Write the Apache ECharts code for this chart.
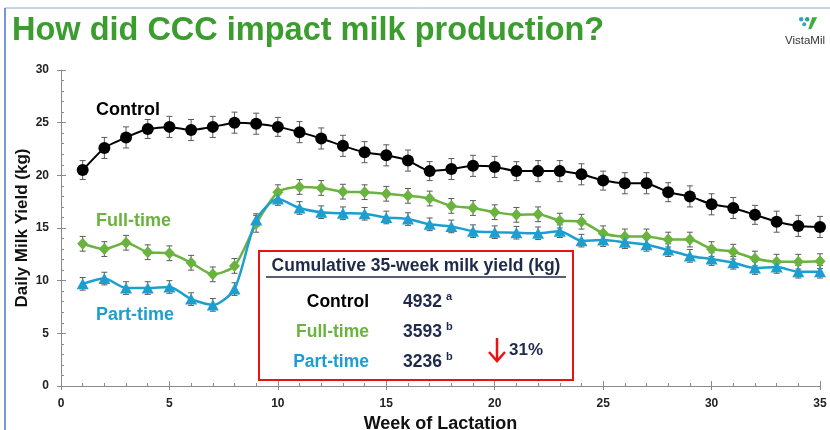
<!DOCTYPE html>
<html>
<head>
<meta charset="utf-8">
<script src="https://cdn.jsdelivr.net/npm/echarts@6/dist/echarts.min.js"></script>
<style>
html,body{margin:0;padding:0;background:#fff;}
#c{width:830px;height:430px;}
</style>
</head>
<body>
<div id="c"></div>
<script>
// ---- data ----
const weeks = [1,2,3,4,5,6,7,8,9,10,11,12,13,14,15,16,17,18,19,20,21,22,23,24,25,26,27,28,29,30,31,32,33,34,35];
const control  = [20.5,22.6,23.6,24.4,24.6,24.3,24.6,25.0,24.9,24.6,24.1,23.5,22.8,22.2,21.9,21.4,20.4,20.6,20.9,20.8,20.4,20.4,20.4,20.1,19.5,19.25,19.25,18.4,18.0,17.25,16.9,16.25,15.6,15.2,15.1];
const fullTime = [13.5,13.0,13.6,12.7,12.6,11.7,10.6,11.4,15.4,18.4,18.9,18.8,18.45,18.4,18.25,18.05,17.8,17.1,16.9,16.5,16.25,16.3,15.7,15.6,14.5,14.2,14.2,13.9,13.9,13.0,12.75,12.1,11.8,11.8,11.85];
const partTime = [9.7,10.2,9.3,9.3,9.4,8.25,7.7,9.2,15.75,17.75,16.9,16.5,16.4,16.35,16.0,15.85,15.35,15.15,14.7,14.6,14.55,14.5,14.7,13.8,13.85,13.65,13.4,12.9,12.35,12.05,11.7,11.2,11.3,10.85,10.85];
const controlErr  = [0.9,1.0,1.0,0.9,1.0,1.0,1.0,1.0,1.0,0.9,1.0,1.0,1.0,1.0,1.0,1.0,0.9,1.0,1.0,1.0,0.9,1.0,1.0,1.0,0.9,1.0,1.0,0.9,1.0,1.0,1.0,0.9,1.0,1.0,1.0];
const fullTimeErr = [0.7,0.7,0.7,0.7,0.7,0.7,0.7,0.7,0.8,0.7,0.7,0.7,0.7,0.7,0.7,0.7,0.7,0.7,0.7,0.7,0.7,0.7,0.7,0.7,0.7,0.7,0.7,0.7,0.7,0.7,0.7,0.7,0.7,0.7,0.7];
const partTimeErr = [0.6,0.6,0.6,0.6,0.6,0.6,0.6,0.6,0.6,0.6,0.6,0.6,0.6,0.6,0.6,0.6,0.6,0.6,0.6,0.6,0.6,0.6,0.6,0.6,0.6,0.6,0.6,0.6,0.6,0.6,0.6,0.6,0.6,0.6,0.6];
const groupNames = ['Control','Full-time','Part-time'];
const cumulative = ['4932','3593','3236'];
const cumulativeSig = ['a','b','b'];
const reduction = '31%';
const xTicks = [0,5,10,15,20,25,30,35];
const yTicks = [0,5,10,15,20,25,30];

// ---- styles ----
const C_CTRL = '#000000', C_FULL = '#6ab33e', C_PART = '#1c9fcf', C_NAVY = '#1f2a4a';
const FONT = '"Liberation Sans", Arial, sans-serif';

function pairs(vals){ return weeks.map((w,i)=>[w, vals[i]]); }
function errPairs(vals, errs){ return weeks.map((w,i)=>[w, vals[i]-errs[i], vals[i]+errs[i]]); }
function errSeries(vals, errs){
  return {
    type:'custom', z:1, silent:true,
    data: errPairs(vals, errs),
    renderItem(params, api){
      const x = api.value(0);
      const lo = api.coord([x, api.value(1)]);
      const hi = api.coord([x, api.value(2)]);
      const w = 3;
      const st = {stroke:'#5a5a5a', lineWidth:1};
      return {type:'group', children:[
        {type:'line', shape:{x1:lo[0],y1:lo[1],x2:hi[0],y2:hi[1]}, style:st},
        {type:'line', shape:{x1:lo[0]-w,y1:lo[1],x2:lo[0]+w,y2:lo[1]}, style:st},
        {type:'line', shape:{x1:hi[0]-w,y1:hi[1],x2:hi[0]+w,y2:hi[1]}, style:st}
      ]};
    }
  };
}

const chart = echarts.init(document.getElementById('c'), null, {renderer:'canvas'});
const axisLine = {lineStyle:{color:'#8a8a8a', width:1}};
const INSET = 'bold 17.5px '+FONT;
const option = {
  animation:false,
  backgroundColor:'#ffffff',
  grid:{left:61, right:10, top:70, bottom:44, containLabel:false, outerBoundsMode:'none'},
  xAxis:[{
    type:'value', min:0, max:35, interval:5,
    axisLine:Object.assign({onZero:false}, axisLine),
    axisTick:{show:true, inside:true, length:5, lineStyle:{color:'#8a8a8a'}},
    minorTick:{show:true, splitNumber:5, length:3, lineStyle:{color:'#8a8a8a'}},
    splitLine:{show:false},
    axisLabel:{margin:12, fontFamily:FONT, fontWeight:'bold', fontSize:12, color:'#222',
      formatter:v=> xTicks.includes(v) ? String(v) : ''},
    name:'Week of Lactation', nameLocation:'middle', nameGap:26,
    nameTextStyle:{fontFamily:FONT, fontWeight:'bold', fontSize:18, color:'#111'}
  },{
    type:'value', min:0, max:35, interval:5, position:'bottom',
    axisLine:{show:false}, axisLabel:{show:false}, splitLine:{show:false},
    axisTick:{show:true, inside:false, length:4, lineStyle:{color:'#8a8a8a'}}
  }],
  yAxis:[{
    type:'value', min:0, max:30, interval:5,
    axisLine:Object.assign({show:true, onZero:false}, axisLine),
    axisTick:{show:true, inside:true, length:5, lineStyle:{color:'#8a8a8a'}},
    minorTick:{show:true, splitNumber:5, length:3, lineStyle:{color:'#8a8a8a'}},
    splitLine:{show:false},
    axisLabel:{margin:12, fontFamily:FONT, fontWeight:'bold', fontSize:12, color:'#222',
      formatter:v=> yTicks.includes(v) ? String(v) : ''},
    name:'Daily Milk Yield (kg)', nameLocation:'middle', nameGap:30, nameRotate:90,
    nameMoveOverlap:false,
    nameTextStyle:{fontFamily:FONT, fontWeight:'bold', fontSize:17, color:'#111'}
  },{
    type:'value', min:0, max:30, interval:5, position:'left',
    axisLine:{show:false}, axisLabel:{show:false}, splitLine:{show:false},
    axisTick:{show:true, inside:false, length:4, lineStyle:{color:'#8a8a8a'}}
  }],
  series:[
    errSeries(control, controlErr),
    errSeries(fullTime, fullTimeErr),
    errSeries(partTime, partTimeErr),
    {type:'line', name:groupNames[0], data:pairs(control), z:3, smooth:0.15,
      symbol:'circle', symbolSize:12, itemStyle:{color:C_CTRL},
      lineStyle:{color:C_CTRL, width:2}},
    {type:'line', name:groupNames[1], data:pairs(fullTime), z:3, smooth:0.25,
      symbol:'diamond', symbolSize:[11,12], itemStyle:{color:C_FULL},
      lineStyle:{color:C_FULL, width:2.5}},
    {type:'line', name:groupNames[2], data:pairs(partTime), z:3, smooth:0.25,
      symbol:'triangle', symbolSize:[12,11], itemStyle:{color:C_PART},
      lineStyle:{color:C_PART, width:2.5}}
  ],
  graphic:[
    // slide frame
    {type:'line', shape:{x1:5,y1:8,x2:830,y2:8}, style:{stroke:'#8fa8d8', lineWidth:1}},
    {type:'line', shape:{x1:5,y1:8,x2:5,y2:430}, style:{stroke:'#4a74c9', lineWidth:1.5}},
    // title
    {type:'text', left:12, top:15, style:{text:'How did CCC impact milk production?',
      font:'bold 32.5px '+FONT, fill:'#3a9d2e'}},
    // logo
    {type:'group', left:799, top:17, children:[
      {type:'circle', shape:{cx:3,cy:2,r:2.2}, style:{fill:'#2fa6c9'}},
      {type:'circle', shape:{cx:9,cy:2,r:2.2}, style:{fill:'#2aa58a'}},
      {type:'circle', shape:{cx:6,cy:7,r:2}, style:{fill:'#2fa6c9'}},
      {type:'polygon', shape:{points:[[14,0],[19,0],[13,12],[10,12]]}, style:{fill:'#3cae3c'}}
    ]},
    {type:'text', left:785, top:35, style:{text:'VistaMil', font:'11.5px '+FONT, fill:'#333'}},
    // series labels
    {type:'text', left:96, top:101, style:{text:groupNames[0], font:'bold 18px '+FONT, fill:C_CTRL}},
    {type:'text', left:96, top:212, style:{text:groupNames[1], font:'bold 18px '+FONT, fill:C_FULL}},
    {type:'text', left:96, top:306, style:{text:groupNames[2], font:'bold 18px '+FONT, fill:C_PART}},
    // inset box
    {type:'rect', shape:{x:259, y:251, width:314, height:129}, z:10,
      style:{fill:'#ffffff', stroke:'#ee1111', lineWidth:2}},
    {type:'text', x:416, y:266, z:11, style:{text:'Cumulative 35-week milk yield (kg)',
      font:INSET, fill:C_NAVY, align:'center', verticalAlign:'middle'}},
    {type:'line', z:11, shape:{x1:266,y1:277,x2:566,y2:277}, style:{stroke:C_NAVY, lineWidth:1.5}},
    {type:'text', x:369, y:302, z:11, style:{text:groupNames[0], font:INSET, fill:'#000', align:'right', verticalAlign:'middle'}},
    {type:'text', x:369, y:332, z:11, style:{text:groupNames[1], font:INSET, fill:C_FULL, align:'right', verticalAlign:'middle'}},
    {type:'text', x:369, y:362, z:11, style:{text:groupNames[2], font:INSET, fill:C_PART, align:'right', verticalAlign:'middle'}},
    {type:'text', x:403, y:302, z:11, style:{text:cumulative[0], font:INSET, fill:C_NAVY, verticalAlign:'middle'}},
    {type:'text', x:403, y:332, z:11, style:{text:cumulative[1], font:INSET, fill:C_NAVY, verticalAlign:'middle'}},
    {type:'text', x:403, y:362, z:11, style:{text:cumulative[2], font:INSET, fill:C_NAVY, verticalAlign:'middle'}},
    {type:'text', x:446, y:297, z:11, style:{text:cumulativeSig[0], font:'bold 11px '+FONT, fill:C_NAVY, verticalAlign:'middle'}},
    {type:'text', x:446, y:327, z:11, style:{text:cumulativeSig[1], font:'bold 11px '+FONT, fill:C_NAVY, verticalAlign:'middle'}},
    {type:'text', x:446, y:357, z:11, style:{text:cumulativeSig[2], font:'bold 11px '+FONT, fill:C_NAVY, verticalAlign:'middle'}},
    // arrow
    {type:'line', z:11, shape:{x1:497,y1:338,x2:497,y2:360}, style:{stroke:'#ee1111', lineWidth:2.5}},
    {type:'polyline', z:11, shape:{points:[[489,352],[497,361],[505,352]]}, style:{stroke:'#ee1111', lineWidth:2.5, fill:null}},
    {type:'text', x:509, y:350, z:11, style:{text:reduction, font:'bold 17px '+FONT, fill:C_NAVY, verticalAlign:'middle'}}
  ]
};
chart.setOption(option);
</script>
</body>
</html>
